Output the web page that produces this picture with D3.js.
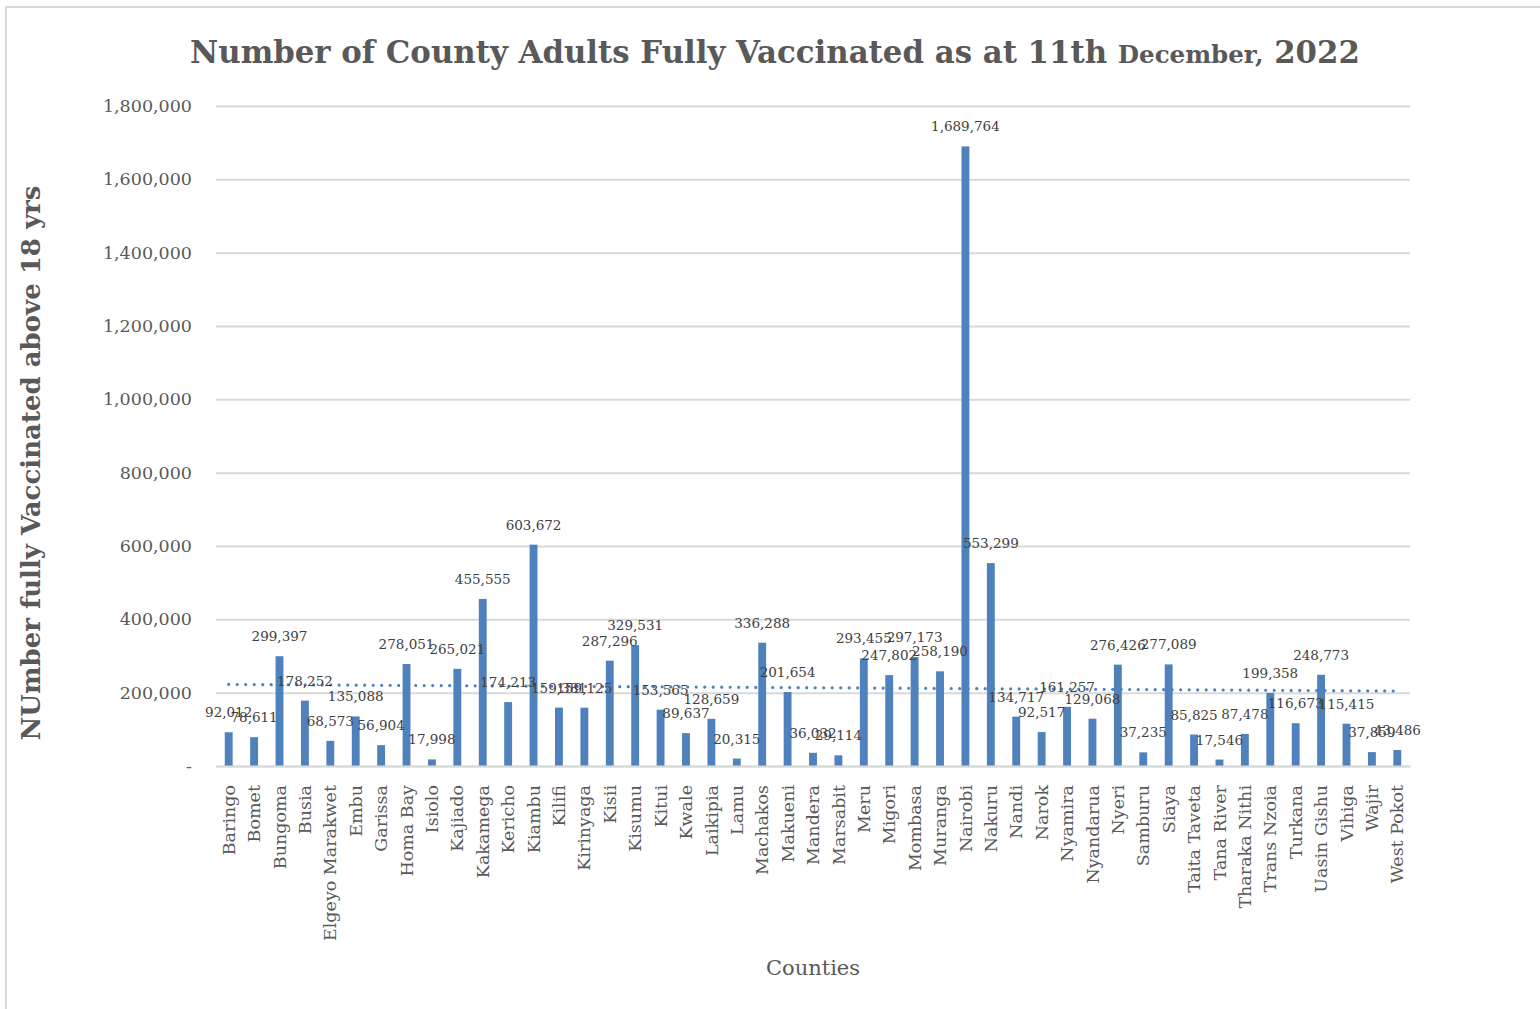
<!DOCTYPE html>
<html>
<head>
<meta charset="utf-8">
<script src="https://cdn.jsdelivr.net/npm/d3@7"></script>
<style>
  body { margin:0; background:#fff; }
  svg { display:block; }
  text { font-family:"DejaVu Serif", serif; }
</style>
</head>
<body>
<svg id="chart" width="1540" height="1009"></svg>
<script>
// county names, in chart order
const counties = ["Baringo","Bomet","Bungoma","Busia","Elgeyo Marakwet","Embu","Garissa","Homa Bay","Isiolo",
  "Kajiado","Kakamega","Kericho","Kiambu","Kilifi","Kirinyaga","Kisii","Kisumu","Kitui","Kwale","Laikipia",
  "Lamu","Machakos","Makueni","Mandera","Marsabit","Meru","Migori","Mombasa","Muranga","Nairobi","Nakuru",
  "Nandi","Narok","Nyamira","Nyandarua","Nyeri","Samburu","Siaya","Taita Taveta","Tana River","Tharaka Nithi",
  "Trans Nzoia","Turkana","Uasin Gishu","Vihiga","Wajir","West Pokot"];

// adults fully vaccinated (above 18 yrs)
const vaccinated = [92012,78611,299397,178252,68573,135088,56904,278051,17998,
  265021,455555,174213,603672,159381,159125,287296,329531,153565,89637,128659,
  20315,336288,201654,36032,29114,293455,247802,297173,258190,1689764,553299,
  134717,92517,161257,129068,276426,37235,277089,85825,17546,87478,
  199358,116673,248773,115415,37859,43486];

const yTicks = [0,200000,400000,600000,800000,1000000,1200000,1400000,1600000,1800000];

const svg = d3.select("#chart");
const pLeft = 216, pRight = 1410, pTop = 106, pBottom = 766;
const grey = "#595959", blue = "#4f81bd";

// outer frame
svg.append("rect")
  .attr("x",6).attr("y",7).attr("width",1600).attr("height",1100)
  .attr("fill","none").attr("stroke","#d9d9d9").attr("stroke-width",2);

let x = d3.scaleBand().domain(counties).range([pLeft,pRight]).paddingInner(0.69).paddingOuter(0.345);
let y = d3.scaleLinear().domain([0,1800000]).range([pBottom,pTop]);

// gridlines + y labels
let yAxis = d3.axisLeft(y).tickValues(yTicks).tickSize(-(pRight-pLeft)).tickPadding(24)
  .tickFormat(d => d==0 ? "-" : d3.format(",")(d));
let gy = svg.append("g").attr("transform",`translate(${pLeft},0)`).call(yAxis);
gy.select(".domain").remove();
gy.selectAll("line").attr("stroke","#d9d9d9").attr("stroke-width",2);
gy.selectAll("text").attr("fill",grey).attr("font-size",17.5).attr("font-family","DejaVu Serif");

// bars
svg.append("g").selectAll("rect")
  .data(counties)
  .join("rect")
  .attr("x", d=>x(d))
  .attr("y", (d,i)=>y(vaccinated[i]))
  .attr("width", x.bandwidth())
  .attr("height", (d,i)=>pBottom-y(vaccinated[i]))
  .attr("fill", blue);

// linear trend line (least squares over the category index)
let n = vaccinated.length;
let xs = d3.range(1,n+1);
let mx = d3.mean(xs), my = d3.mean(vaccinated);
let slope = d3.sum(xs, (v,i)=>(v-mx)*(vaccinated[i]-my)) / d3.sum(xs, v=>(v-mx)*(v-mx));
let icpt = my - slope*mx;
let cx = d => x(d)+x.bandwidth()/2;
svg.append("line")
  .attr("x1", cx(counties[0])).attr("y1", y(icpt+slope*1))
  .attr("x2", cx(counties[n-1])).attr("y2", y(icpt+slope*n))
  .attr("stroke", blue).attr("stroke-width",3.2)
  .attr("stroke-linecap","round").attr("stroke-dasharray","0 8.5");

// data labels
svg.append("g").selectAll("text")
  .data(counties)
  .join("text")
  .attr("x", d=>cx(d))
  .attr("y", (d,i)=>y(vaccinated[i])-15)
  .attr("text-anchor","middle")
  .attr("font-size",13.5)
  .attr("fill","#404040")
  .text((d,i)=>d3.format(",")(vaccinated[i]));

// x axis labels
let gx = svg.append("g").attr("transform",`translate(0,${pBottom})`)
  .call(d3.axisBottom(x).tickSize(0).tickPadding(0));
gx.select(".domain").attr("stroke","#d9d9d9").attr("stroke-width",2);
gx.selectAll("text")
  .attr("font-size",17.5).attr("fill",grey).attr("font-family","DejaVu Serif")
  .attr("text-anchor","end")
  .attr("transform","rotate(-90)")
  .attr("dy","0.35em").attr("x",-19).attr("y",0);

// titles
let t = svg.append("text").attr("x",775).attr("y",63).attr("text-anchor","middle")
  .attr("font-weight","bold").attr("fill",grey).attr("font-size",30.8);
t.append("tspan").text("Number of County Adults Fully Vaccinated  as at 11th ");
t.append("tspan").attr("font-size",24.5).text("December,");
t.append("tspan").text(" 2022");

svg.append("text").attr("transform","translate(40,463) rotate(-90)")
  .attr("text-anchor","middle").attr("font-weight","bold").attr("fill",grey)
  .attr("font-size",26).text("NUmber fully Vaccinated above 18 yrs");

svg.append("text").attr("x",813).attr("y",975).attr("text-anchor","middle")
  .attr("fill",grey).attr("font-size",21).text("Counties");
</script>
</body>
</html>
